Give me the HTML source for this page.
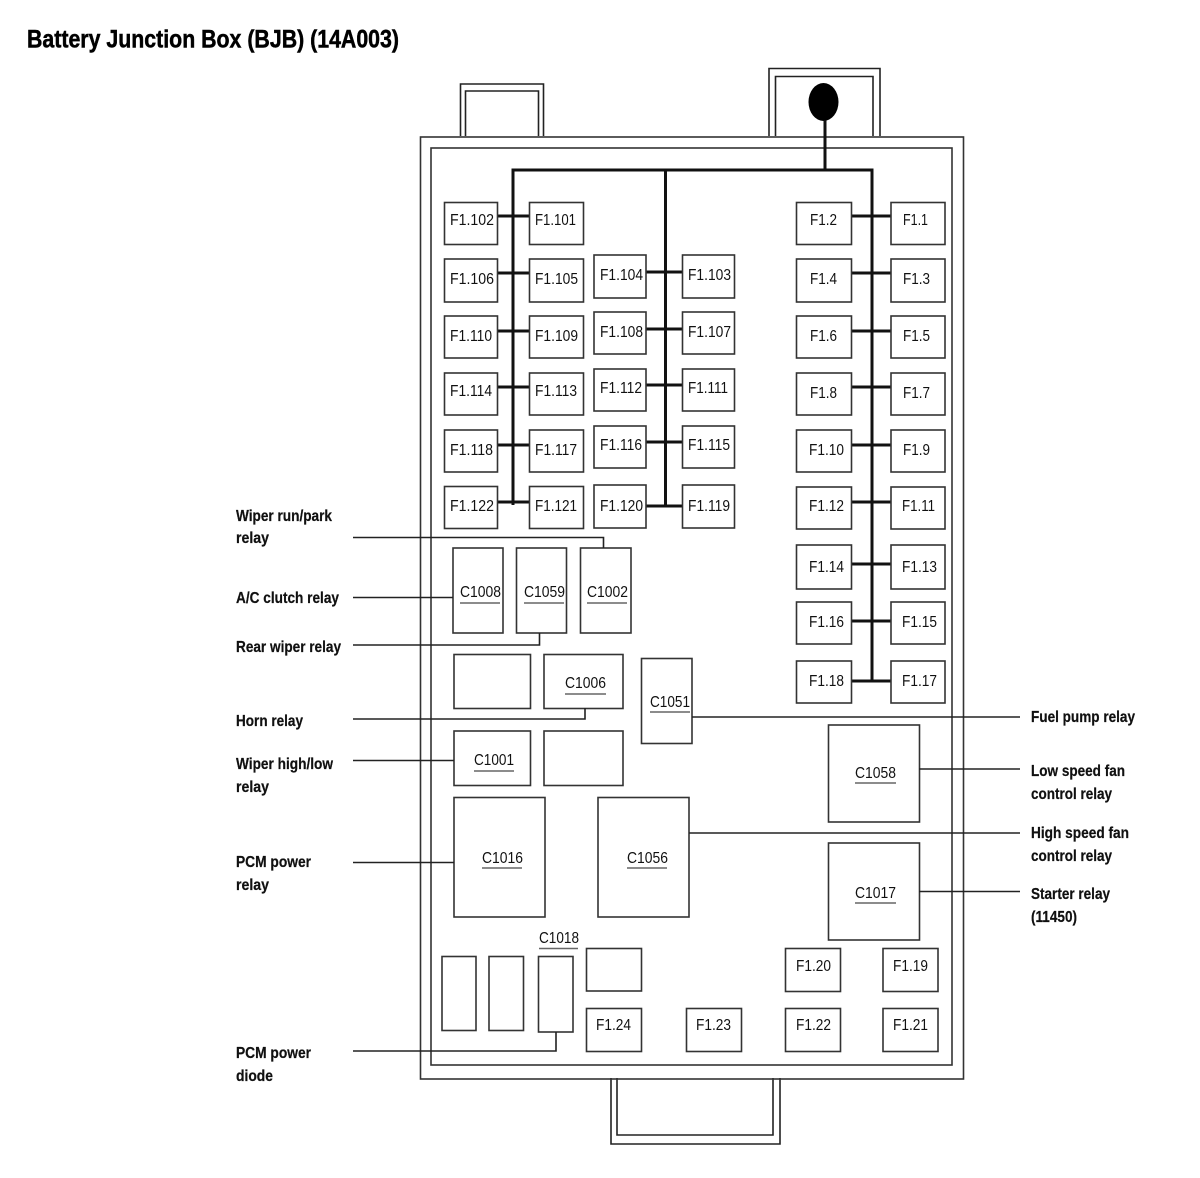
<!DOCTYPE html>
<html><head><meta charset="utf-8"><style>
html,body{margin:0;padding:0;background:#fff}
svg{display:block}
text{font-family:"Liberation Sans",sans-serif;fill:#111}
.f{font-size:16px}
.b{font-size:16px;font-weight:bold;fill:#000;stroke:#000;stroke-width:.2}
rect{fill:#fff;stroke:#333;stroke-width:1.6}
.w{fill:none;stroke:#111;stroke-width:3}
.l{fill:none;stroke:#222;stroke-width:1.6}
.u{stroke:#666;stroke-width:1.5;fill:none}
</style></head><body>
<svg width="1200" height="1178" viewBox="0 0 1200 1178" xmlns="http://www.w3.org/2000/svg">
<text x="27" y="47.500" style="font-size:25px;font-weight:bold;fill:#000;stroke:#000;stroke-width:.5" textLength="372" lengthAdjust="spacingAndGlyphs">Battery Junction Box (BJB) (14A003)</text>

<!-- tabs -->
<path class="l" d="M460.500 136V84H543.500V136M465.500 136V91H538.500V136"/>
<path class="l" d="M769 136V68.500H880V136M775.500 136V76.500H873V136"/>
<path class="l" d="M611 1078V1144H780V1078M617 1078V1135H773V1078"/>
<!-- body -->
<rect x="420.500" y="137" width="543" height="942" style="fill:none"/>
<rect x="431" y="148" width="521" height="917" style="fill:none"/>

<!-- bus -->
<ellipse cx="823.500" cy="102" rx="15" ry="19" fill="#000"/>
<path class="w" d="M825 120V170M513 505V170H872V681M665.500 170V506"/>
<path class="w" d="M498 216H529M498 273H529M498 331H529M498 387H529M498 445H529M498 502H529M646 272H682M646 329H682M646 385H682M646 442H682M646 506H682M852 216H891M852 273H891M852 331H891M852 387H891M852 445H891M852 502H891M852 564H891M852 621H891M852 681H891"/>

<!-- fuses -->
<g>
<rect x="444.500" y="202.500" width="53" height="42"/><rect x="529.500" y="202.500" width="54" height="42"/>
<rect x="444.500" y="259" width="53" height="43"/><rect x="529.500" y="259" width="54" height="43"/>
<rect x="444.500" y="316" width="53" height="42"/><rect x="529.500" y="316" width="54" height="42"/>
<rect x="444.500" y="373" width="53" height="42"/><rect x="529.500" y="373" width="54" height="42"/>
<rect x="444.500" y="430" width="53" height="42"/><rect x="529.500" y="430" width="54" height="42"/>
<rect x="444.500" y="486.500" width="53" height="42"/><rect x="529.500" y="486.500" width="54" height="42"/>
<rect x="594" y="255" width="52" height="43"/><rect x="682.500" y="255" width="52" height="43"/>
<rect x="594" y="312" width="52" height="42"/><rect x="682.500" y="312" width="52" height="42"/>
<rect x="594" y="369" width="52" height="42"/><rect x="682.500" y="369" width="52" height="42"/>
<rect x="594" y="426" width="52" height="42"/><rect x="682.500" y="426" width="52" height="42"/>
<rect x="594" y="485" width="52" height="43"/><rect x="682.500" y="485" width="52" height="43"/>
<rect x="796.500" y="202.500" width="55" height="42"/><rect x="891" y="202.500" width="54" height="42"/>
<rect x="796.500" y="259" width="55" height="43"/><rect x="891" y="259" width="54" height="43"/>
<rect x="796.500" y="316" width="55" height="42"/><rect x="891" y="316" width="54" height="42"/>
<rect x="796.500" y="373" width="55" height="42"/><rect x="891" y="373" width="54" height="42"/>
<rect x="796.500" y="430" width="55" height="42"/><rect x="891" y="430" width="54" height="42"/>
<rect x="796.500" y="487" width="55" height="42"/><rect x="891" y="487" width="54" height="42"/>
<rect x="796.500" y="545" width="55" height="44"/><rect x="891" y="545" width="54" height="44"/>
<rect x="796.500" y="602" width="55" height="42"/><rect x="891" y="602" width="54" height="42"/>
<rect x="796.500" y="661" width="55" height="42"/><rect x="891" y="661" width="54" height="42"/>
</g>
<g class="f">
<text x="450" y="225" textLength="44" lengthAdjust="spacingAndGlyphs">F1.102</text>
<text x="535" y="225" textLength="41" lengthAdjust="spacingAndGlyphs">F1.101</text>
<text x="450" y="284" textLength="44" lengthAdjust="spacingAndGlyphs">F1.106</text>
<text x="535" y="284" textLength="43" lengthAdjust="spacingAndGlyphs">F1.105</text>
<text x="450" y="341" textLength="42" lengthAdjust="spacingAndGlyphs">F1.110</text>
<text x="535" y="341" textLength="43" lengthAdjust="spacingAndGlyphs">F1.109</text>
<text x="450" y="396" textLength="42" lengthAdjust="spacingAndGlyphs">F1.114</text>
<text x="535" y="396" textLength="42" lengthAdjust="spacingAndGlyphs">F1.113</text>
<text x="450" y="455" textLength="43" lengthAdjust="spacingAndGlyphs">F1.118</text>
<text x="535" y="455" textLength="42" lengthAdjust="spacingAndGlyphs">F1.117</text>
<text x="450" y="511" textLength="44" lengthAdjust="spacingAndGlyphs">F1.122</text>
<text x="535" y="511" textLength="42" lengthAdjust="spacingAndGlyphs">F1.121</text>
<text x="600" y="280" textLength="43" lengthAdjust="spacingAndGlyphs">F1.104</text>
<text x="688" y="280" textLength="43" lengthAdjust="spacingAndGlyphs">F1.103</text>
<text x="600" y="337" textLength="43" lengthAdjust="spacingAndGlyphs">F1.108</text>
<text x="688" y="337" textLength="43" lengthAdjust="spacingAndGlyphs">F1.107</text>
<text x="600" y="393" textLength="42" lengthAdjust="spacingAndGlyphs">F1.112</text>
<text x="688" y="393" textLength="40" lengthAdjust="spacingAndGlyphs">F1.111</text>
<text x="600" y="450" textLength="42" lengthAdjust="spacingAndGlyphs">F1.116</text>
<text x="688" y="450" textLength="42" lengthAdjust="spacingAndGlyphs">F1.115</text>
<text x="600" y="511" textLength="43" lengthAdjust="spacingAndGlyphs">F1.120</text>
<text x="688" y="511" textLength="42" lengthAdjust="spacingAndGlyphs">F1.119</text>
<text x="810" y="225" textLength="27" lengthAdjust="spacingAndGlyphs">F1.2</text>
<text x="903" y="225" textLength="25" lengthAdjust="spacingAndGlyphs">F1.1</text>
<text x="810" y="284" textLength="27" lengthAdjust="spacingAndGlyphs">F1.4</text>
<text x="903" y="284" textLength="27" lengthAdjust="spacingAndGlyphs">F1.3</text>
<text x="810" y="341" textLength="27" lengthAdjust="spacingAndGlyphs">F1.6</text>
<text x="903" y="341" textLength="27" lengthAdjust="spacingAndGlyphs">F1.5</text>
<text x="810" y="398" textLength="27" lengthAdjust="spacingAndGlyphs">F1.8</text>
<text x="903" y="398" textLength="27" lengthAdjust="spacingAndGlyphs">F1.7</text>
<text x="809" y="455" textLength="35" lengthAdjust="spacingAndGlyphs">F1.10</text>
<text x="903" y="455" textLength="27" lengthAdjust="spacingAndGlyphs">F1.9</text>
<text x="809" y="511" textLength="35" lengthAdjust="spacingAndGlyphs">F1.12</text>
<text x="902" y="511" textLength="33" lengthAdjust="spacingAndGlyphs">F1.11</text>
<text x="809" y="572" textLength="35" lengthAdjust="spacingAndGlyphs">F1.14</text>
<text x="902" y="572" textLength="35" lengthAdjust="spacingAndGlyphs">F1.13</text>
<text x="809" y="627" textLength="35" lengthAdjust="spacingAndGlyphs">F1.16</text>
<text x="902" y="627" textLength="35" lengthAdjust="spacingAndGlyphs">F1.15</text>
<text x="809" y="686" textLength="35" lengthAdjust="spacingAndGlyphs">F1.18</text>
<text x="902" y="686" textLength="35" lengthAdjust="spacingAndGlyphs">F1.17</text>
</g>

<!-- relays -->
<rect x="453" y="548" width="50" height="85"/>
<rect x="516.500" y="548" width="50" height="85"/>
<rect x="580.500" y="548" width="50.500" height="85"/>
<rect x="454" y="654.500" width="76.500" height="54"/>
<rect x="544" y="654.500" width="79" height="54"/>
<rect x="641.500" y="658.500" width="50.500" height="85"/>
<rect x="454" y="731" width="76.500" height="54.500"/>
<rect x="544" y="731" width="79" height="54.500"/>
<rect x="454" y="797.500" width="91" height="119.500"/>
<rect x="598" y="797.500" width="91" height="119.500"/>
<rect x="828.500" y="725" width="91" height="97"/>
<rect x="828.500" y="843" width="91" height="97"/>
<rect x="442" y="956.500" width="34" height="74"/>
<rect x="489" y="956.500" width="34.500" height="74"/>
<rect x="538.500" y="956.500" width="34.500" height="75.500"/>
<rect x="586.500" y="948.500" width="55" height="42.500"/>
<rect x="586.500" y="1008.500" width="55" height="43"/>
<rect x="686.500" y="1008.500" width="55" height="43"/>
<rect x="785.500" y="948.500" width="55" height="43"/>
<rect x="785.500" y="1008.500" width="55" height="43"/>
<rect x="883" y="948.500" width="55" height="43"/>
<rect x="883" y="1008.500" width="55" height="43"/>

<g class="f">
<text x="460" y="597" textLength="41" lengthAdjust="spacingAndGlyphs">C1008</text>
<text x="524" y="597" textLength="41" lengthAdjust="spacingAndGlyphs">C1059</text>
<text x="587" y="597" textLength="41" lengthAdjust="spacingAndGlyphs">C1002</text>
<text x="565" y="688" textLength="41" lengthAdjust="spacingAndGlyphs">C1006</text>
<text x="650" y="707" textLength="40" lengthAdjust="spacingAndGlyphs">C1051</text>
<text x="474" y="765" textLength="40" lengthAdjust="spacingAndGlyphs">C1001</text>
<text x="482" y="863" textLength="41" lengthAdjust="spacingAndGlyphs">C1016</text>
<text x="627" y="863" textLength="41" lengthAdjust="spacingAndGlyphs">C1056</text>
<text x="855" y="778" textLength="41" lengthAdjust="spacingAndGlyphs">C1058</text>
<text x="855" y="898" textLength="41" lengthAdjust="spacingAndGlyphs">C1017</text>
<text x="539" y="943" textLength="40" lengthAdjust="spacingAndGlyphs">C1018</text>
<text x="796" y="971" textLength="35" lengthAdjust="spacingAndGlyphs">F1.20</text>
<text x="893" y="971" textLength="35" lengthAdjust="spacingAndGlyphs">F1.19</text>
<text x="596" y="1030" textLength="35" lengthAdjust="spacingAndGlyphs">F1.24</text>
<text x="696" y="1030" textLength="35" lengthAdjust="spacingAndGlyphs">F1.23</text>
<text x="796" y="1030" textLength="35" lengthAdjust="spacingAndGlyphs">F1.22</text>
<text x="893" y="1030" textLength="35" lengthAdjust="spacingAndGlyphs">F1.21</text>
</g>
<path class="u" d="M460 603H500M524 603H564M587 603H627M565 694H606M650 712H690M474 771H514M482 868H522M627 868H667M855 783H896M855 903H896M539 948.500H578"/>

<!-- leaders -->
<path class="l" d="M353 537.500H603.500V548M353 597.500H453M353 645H539.500V633M353 719H585V708M353 760.500H454M353 862.500H454M353 1051H556V1032M692 717H1020M919 769H1020M689 833H1020M919 891.500H1020"/>

<!-- labels -->
<g class="b">
<text x="236" y="521" textLength="96" lengthAdjust="spacingAndGlyphs">Wiper run/park</text>
<text x="236" y="543" textLength="33" lengthAdjust="spacingAndGlyphs">relay</text>
<text x="236" y="603" textLength="103" lengthAdjust="spacingAndGlyphs">A/C clutch relay</text>
<text x="236" y="652" textLength="105" lengthAdjust="spacingAndGlyphs">Rear wiper relay</text>
<text x="236" y="726" textLength="67" lengthAdjust="spacingAndGlyphs">Horn relay</text>
<text x="236" y="769" textLength="97" lengthAdjust="spacingAndGlyphs">Wiper high/low</text>
<text x="236" y="792" textLength="33" lengthAdjust="spacingAndGlyphs">relay</text>
<text x="236" y="867" textLength="75" lengthAdjust="spacingAndGlyphs">PCM power</text>
<text x="236" y="890" textLength="33" lengthAdjust="spacingAndGlyphs">relay</text>
<text x="236" y="1058" textLength="75" lengthAdjust="spacingAndGlyphs">PCM power</text>
<text x="236" y="1081" textLength="37" lengthAdjust="spacingAndGlyphs">diode</text>
<text x="1031" y="722" textLength="104" lengthAdjust="spacingAndGlyphs">Fuel pump relay</text>
<text x="1031" y="776" textLength="94" lengthAdjust="spacingAndGlyphs">Low speed fan</text>
<text x="1031" y="799" textLength="81" lengthAdjust="spacingAndGlyphs">control relay</text>
<text x="1031" y="838" textLength="98" lengthAdjust="spacingAndGlyphs">High speed fan</text>
<text x="1031" y="861" textLength="81" lengthAdjust="spacingAndGlyphs">control relay</text>
<text x="1031" y="899" textLength="79" lengthAdjust="spacingAndGlyphs">Starter relay</text>
<text x="1031" y="922" textLength="46" lengthAdjust="spacingAndGlyphs">(11450)</text>
</g>
</svg>
</body></html>
